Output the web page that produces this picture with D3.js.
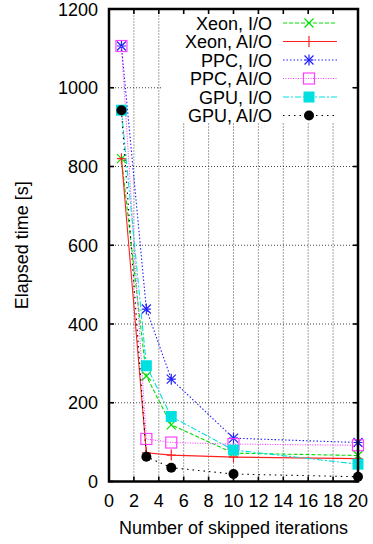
<!DOCTYPE html>
<html>
<head>
  <script src="https://d3js.org/d3.v7.min.js"></script>
<style>
  body { margin: 0; background: #fff; }
  text {
    font-family: 'Liberation Sans', Arial, sans-serif;
    font-size: 18px;
    fill: #000;
  }
</style>
</head>
<body>
  <div id="chart">
    <svg></svg>
  </div>

  <script>

    'use strict';

    var skipped = [1, 3, 5, 10, 20];

    var seriesNames = ["Xeon, I/O", "Xeon, AI/O", "PPC, I/O", "PPC, AI/O", "GPU, I/O", "GPU, AI/O"];

    var xeonIO  = [820, 268, 144, 72, 66];
    var xeonAIO = [820, 73, 67, 62, 58];
    var ppcIO   = [1106, 438, 260, 110, 99];
    var ppcAIO  = [1106, 108, 99, 95, 92];
    var gpuIO   = [943, 294, 165, 80, 44];
    var gpuAIO  = [943, 63, 35, 19, 12];

    var xTicks = [0, 2, 4, 6, 8, 10, 12, 14, 16, 18, 20];
    var yTicks = [0, 200, 400, 600, 800, 1000, 1200];

    var seriesValues = [xeonIO, xeonAIO, ppcIO, ppcAIO, gpuIO, gpuAIO];

    // look of each series, gnuplot style
    var styles = [
      {color: "#00e000", dash: "4,2",      marker: "x"},
      {color: "#ff2020", dash: null,       marker: "plus"},
      {color: "#2020ff", dash: "1.5,2",    marker: "star"},
      {color: "#ff40ff", dash: "1,1.5",    marker: "sq"},
      {color: "#00e0e0", dash: "6,2,2,2",  marker: "fsq"},
      {color: "#000000", dash: "1.5,4",    marker: "circ"}
    ];

    var width = 373, height = 544;
    var margin = {top: 9, right: 15, bottom: 62.5, left: 109};

    var svg = d3.select("#chart").select("svg")
      .attr("width", width).attr("height", height);

    var x = d3.scaleLinear().domain([0, 20]).range([margin.left, width - margin.right]);
    var y = d3.scaleLinear().domain([0, 1200]).range([height - margin.bottom, margin.top]);

    var x0 = x.range()[0], x1 = x.range()[1];
    var y0 = y.range()[0], y1 = y.range()[1];

    // grid
    var grid = svg.append("g")
      .attr("stroke", "#303030")
      .attr("stroke-width", 0.9)
      .attr("stroke-dasharray", "1,2");

    grid.selectAll(".gx")
      .data(xTicks.slice(1, -1))
      .enter().append("line")
        .attr("x1", function(d){ return x(d) }).attr("x2", function(d){ return x(d) })
        .attr("y1", y0).attr("y2", y1);

    grid.selectAll(".gy")
      .data(yTicks.slice(1, -1))
      .enter().append("line")
        .attr("x1", x0).attr("x2", x1)
        .attr("y1", function(d){ return y(d) }).attr("y2", function(d){ return y(d) });

    // legend background hides the grid behind it
    svg.append("rect")
      .attr("x", 162).attr("y", 11)
      .attr("width", 190).attr("height", 112)
      .attr("fill", "#fff");

    // ticks on all four sides
    var tickLen = 5;
    var ticks = svg.append("g").attr("stroke", "#000").attr("stroke-width", 1.6);

    xTicks.forEach(function(d) {
      ticks.append("line").attr("x1", x(d)).attr("x2", x(d)).attr("y1", y0).attr("y2", y0 - tickLen);
      ticks.append("line").attr("x1", x(d)).attr("x2", x(d)).attr("y1", y1).attr("y2", y1 + tickLen);
    });
    yTicks.forEach(function(d) {
      ticks.append("line").attr("x1", x0).attr("x2", x0 + tickLen).attr("y1", y(d)).attr("y2", y(d));
      ticks.append("line").attr("x1", x1).attr("x2", x1 - tickLen).attr("y1", y(d)).attr("y2", y(d));
    });

    svg.selectAll(".xl")
      .data(xTicks)
      .enter().append("text")
        .attr("x", function(d){ return x(d) })
        .attr("y", y0 + 25)
        .style("text-anchor", "middle")
        .text(function(d){ return d });

    svg.selectAll(".yl")
      .data(yTicks)
      .enter().append("text")
        .attr("x", x0 - 11)
        .attr("y", function(d){ return y(d) + 6.5 })
        .style("text-anchor", "end")
        .text(function(d){ return d });

    svg.append("text")
      .attr("x", (x0 + x1) / 2)
      .attr("y", 534)
      .style("text-anchor", "middle")
      .text("Number of skipped iterations");

    svg.append("text")
      .attr("transform", "translate(28," + ((y0 + y1) / 2) + ") rotate(-90)")
      .style("text-anchor", "middle")
      .text("Elapsed time [s]");

    function marker(g, type, color, cx, cy) {
      var s = 4.5;
      if (type === "x" || type === "star") {
        g.append("path")
          .attr("d", "M" + (cx - s) + "," + (cy - s) + "L" + (cx + s) + "," + (cy + s) +
                     "M" + (cx - s) + "," + (cy + s) + "L" + (cx + s) + "," + (cy - s))
          .attr("stroke", color).attr("stroke-width", 1.2).attr("fill", "none");
      }
      if (type === "plus" || type === "star") {
        g.append("path")
          .attr("d", "M" + (cx - s) + "," + cy + "L" + (cx + s) + "," + cy +
                     "M" + cx + "," + (cy - s - 1) + "L" + cx + "," + (cy + s + 1))
          .attr("stroke", color).attr("stroke-width", 1.2).attr("fill", "none");
      }
      if (type === "sq") {
        g.append("rect").attr("x", cx - 5.5).attr("y", cy - 5.5).attr("width", 11).attr("height", 11)
          .attr("stroke", color).attr("stroke-width", 1.2).attr("fill", "none");
      }
      if (type === "fsq") {
        g.append("rect").attr("x", cx - 5.5).attr("y", cy - 5.5).attr("width", 11).attr("height", 11)
          .attr("fill", color);
      }
      if (type === "circ") {
        g.append("circle").attr("cx", cx).attr("cy", cy).attr("r", 5).attr("fill", color);
      }
    }

    var line = d3.line()
      .x(function(d){ return x(d[0]) })
      .y(function(d){ return y(d[1]) });

    var plot = svg.append("g");

    seriesValues.forEach(function(vals, i) {
      var st = styles[i];
      var pts = skipped.map(function(s, j){ return [s, vals[j]] });
      var g = plot.append("g");
      g.append("path")
        .attr("d", line(pts))
        .attr("fill", "none")
        .attr("stroke", st.color)
        .attr("stroke-width", 1.1)
        .attr("stroke-dasharray", st.dash);
      pts.forEach(function(p) {
        marker(g, st.marker, st.color, x(p[0]), y(p[1]));
      });
    });

    // legend
    var legend = svg.append("g");
    seriesNames.forEach(function(name, i) {
      var st = styles[i];
      var ly = 23 + i * 18.5;
      legend.append("text")
        .attr("x", 272).attr("y", ly + 6.5)
        .style("text-anchor", "end")
        .text(name);
      legend.append("line")
        .attr("x1", 283).attr("x2", 337)
        .attr("y1", ly).attr("y2", ly)
        .attr("stroke", st.color)
        .attr("stroke-width", 1.1)
        .attr("stroke-dasharray", st.dash);
      marker(legend, st.marker, st.color, 309, ly);
    });

    // frame
    svg.append("rect")
      .attr("x", x0).attr("y", y1)
      .attr("width", x1 - x0).attr("height", y0 - y1)
      .attr("fill", "none")
      .attr("stroke", "#000")
      .attr("stroke-width", 2.5);

  </script>

</body>
</html>
